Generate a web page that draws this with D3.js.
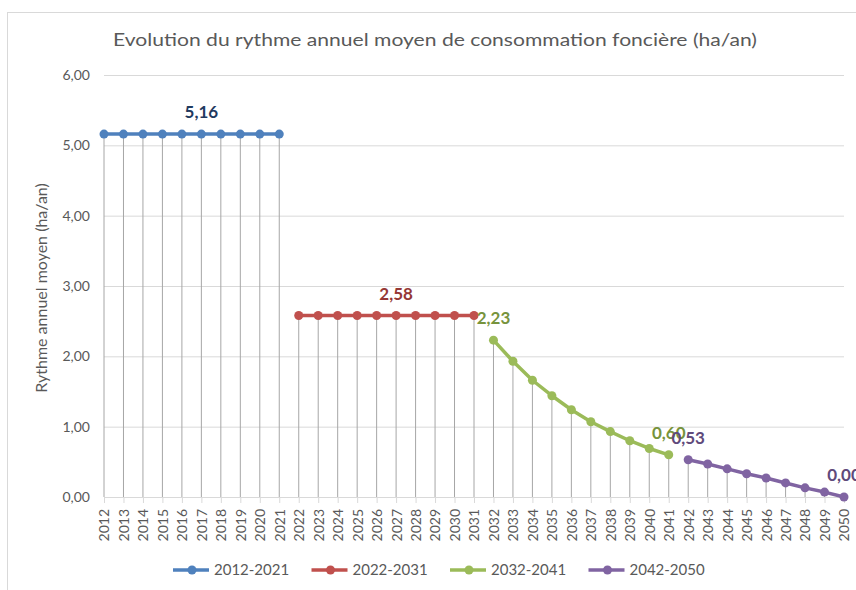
<!DOCTYPE html>
<html lang="fr">
<head>
<meta charset="utf-8">
<title>Rythme annuel moyen de consommation foncière</title>
<script src="https://cdn.jsdelivr.net/npm/d3@7"></script>
<style>
  html, body { margin: 0; padding: 0; background: #fff; }
  svg { display: block; font-family: Lato, 'Noto Sans', sans-serif; }
</style>
</head>
<body>
<div id="graphique"></div>
<script>
// Années (axe des catégories)
const annees = [
  '2012', '2013', '2014', '2015', '2016', '2017', '2018', '2019', '2020', '2021',
  '2022', '2023', '2024', '2025', '2026', '2027', '2028', '2029', '2030', '2031',
  '2032', '2033', '2034', '2035', '2036', '2037', '2038', '2039', '2040', '2041',
  '2042', '2043', '2044', '2045', '2046', '2047', '2048', '2049', '2050',
];

// Valeurs (ha/an)
const periode2012 = [5.16, 5.16, 5.16, 5.16, 5.16, 5.16, 5.16, 5.16, 5.16, 5.16];
const periode2022 = [2.58, 2.58, 2.58, 2.58, 2.58, 2.58, 2.58, 2.58, 2.58, 2.58];
const periode2032 = [2.23, 1.93, 1.66, 1.44, 1.24, 1.07, 0.93, 0.80, 0.69, 0.60];
const periode2042 = [0.53, 0.47, 0.40, 0.33, 0.27, 0.20, 0.13, 0.07, 0.00];

const nomsSeries = ['2012-2021', '2022-2031', '2032-2041', '2042-2050'];
const debutSeries = ['2012', '2022', '2032', '2042'];
const etiquettesSeries = [[5], [5], [0, 9], [0, 8]];
const ticksY = [0, 1, 2, 3, 4, 5, 6];

(function () {
  const LARGEUR = 856;
  const HAUTEUR = 590;
  const COULEURS = ['#4f81bd', '#c0504d', '#9bbb59', '#8064a2'];
  const COULEURS_ETIQ = ['#1f3a5f', '#953735', '#77933c', '#604a7b'];
  const GRIS_TEXTE = '#595959';
  const GRIS_GRILLE = '#d9d9d9';
  const GRIS_CHUTE = '#a6a6a6';

  const virgule = (v) => d3.format('.2f')(v).replace('.', ',');

  const series = [periode2012, periode2022, periode2032, periode2042].map((valeurs, i) => {
    const i0 = annees.indexOf(debutSeries[i]);
    return {
      nom: nomsSeries[i],
      couleur: COULEURS[i],
      couleurEtiq: COULEURS_ETIQ[i],
      etiquettes: etiquettesSeries[i],
      points: valeurs.map((v, k) => ({ annee: annees[i0 + k], valeur: v })),
    };
  });

  const svg = d3.select('#graphique')
    .append('svg')
    .attr('width', LARGEUR)
    .attr('height', HAUTEUR);

  // cadre de la zone du graphique
  svg.append('rect')
    .attr('x', 7.5).attr('y', 12.5)
    .attr('width', LARGEUR).attr('height', HAUTEUR)
    .attr('fill', 'none')
    .attr('stroke', GRIS_GRILLE);

  const x = d3.scalePoint().domain(annees).range([104, 844]);
  const y = d3.scaleLinear().domain([0, 6]).range([497, 75]);

  svg.append('text')
    .attr('x', 113).attr('y', 46)
    .attr('textLength', 644)
    .attr('lengthAdjust', 'spacingAndGlyphs')
    .attr('font-size', 18)
    .attr('fill', GRIS_TEXTE)
    .text('Evolution du rythme annuel moyen de consommation foncière (ha/an)');

  // grille horizontale + étiquettes Y
  svg.append('g')
    .attr('transform', 'translate(104,0)')
    .call(d3.axisLeft(y).tickValues(ticksY).tickFormat(virgule).tickSize(-740).tickPadding(14))
    .call((g) => g.select('.domain').remove())
    .call((g) => g.selectAll('.tick line').attr('stroke', GRIS_GRILLE))
    .call((g) => g.selectAll('.tick text')
      .attr('fill', GRIS_TEXTE)
      .attr('font-size', 14)
      .attr('font-family', 'Lato, sans-serif'));

  svg.append('text')
    .attr('transform', 'translate(47,288) rotate(-90)')
    .attr('text-anchor', 'middle')
    .attr('font-size', 16)
    .attr('fill', GRIS_TEXTE)
    .text('Rythme annuel moyen (ha/an)');

  // lignes de chute (max des séries par année)
  const maxParAnnee = new Map();
  series.forEach((s) => s.points.forEach((p) => {
    maxParAnnee.set(p.annee, Math.max(maxParAnnee.get(p.annee) ?? 0, p.valeur));
  }));
  svg.append('g')
    .selectAll('line')
    .data(annees)
    .join('line')
    .attr('x1', (d) => x(d)).attr('x2', (d) => x(d))
    .attr('y1', (d) => y(maxParAnnee.get(d)))
    .attr('y2', y(0))
    .attr('stroke', GRIS_CHUTE)
    .attr('stroke-width', 1);

  // axe X
  svg.append('g')
    .attr('transform', `translate(0,${y(0)})`)
    .call(d3.axisBottom(x).tickSize(6).tickPadding(4))
    .call((g) => g.select('.domain').attr('stroke', GRIS_GRILLE).attr('d', 'M104,0.5H844'))
    .call((g) => g.selectAll('.tick line').attr('stroke', GRIS_GRILLE))
    .call((g) => g.selectAll('.tick text')
      .attr('fill', GRIS_TEXTE)
      .attr('font-size', 14)
      .attr('font-family', 'Lato, sans-serif')
      .attr('text-anchor', 'end')
      .attr('transform', 'rotate(-90)')
      .attr('dy', '0.35em')
      .attr('x', -12)
      .attr('y', 0));

  const ligne = d3.line().x((d) => x(d.annee)).y((d) => y(d.valeur));

  const groupes = svg.append('g')
    .selectAll('g.serie')
    .data(series)
    .join('g')
    .attr('class', 'serie');

  groupes.append('path')
    .attr('d', (d) => ligne(d.points))
    .attr('fill', 'none')
    .attr('stroke', (d) => d.couleur)
    .attr('stroke-width', 3.5)
    .attr('stroke-linejoin', 'round');

  groupes.selectAll('circle')
    .data((d) => d.points.map((p) => ({ ...p, couleur: d.couleur })))
    .join('circle')
    .attr('cx', (d) => x(d.annee))
    .attr('cy', (d) => y(d.valeur))
    .attr('r', 4.5)
    .attr('fill', (d) => d.couleur);

  groupes.selectAll('text.etiquette')
    .data((d) => d.etiquettes.map((k) => ({ ...d.points[k], couleur: d.couleurEtiq })))
    .join('text')
    .attr('class', 'etiquette')
    .attr('x', (d) => x(d.annee))
    .attr('y', (d) => y(d.valeur) - 16)
    .attr('text-anchor', 'middle')
    .attr('font-size', 17)
    .attr('font-weight', 'bold')
    .attr('fill', (d) => d.couleur)
    .text((d) => virgule(d.valeur));

  // légende
  const legende = svg.append('g')
    .selectAll('g')
    .data(series)
    .join('g')
    .attr('transform', (d, i) => `translate(${173 + i * 138.5},570)`);

  legende.append('line')
    .attr('x1', 0).attr('x2', 36)
    .attr('stroke', (d) => d.couleur)
    .attr('stroke-width', 3.5);
  legende.append('circle')
    .attr('cx', 19).attr('r', 4.5)
    .attr('fill', (d) => d.couleur);
  legende.append('text')
    .attr('x', 41)
    .attr('dy', '0.35em')
    .attr('font-size', 15)
    .attr('fill', GRIS_TEXTE)
    .text((d) => d.nom);
})();
</script>
</body>
</html>
